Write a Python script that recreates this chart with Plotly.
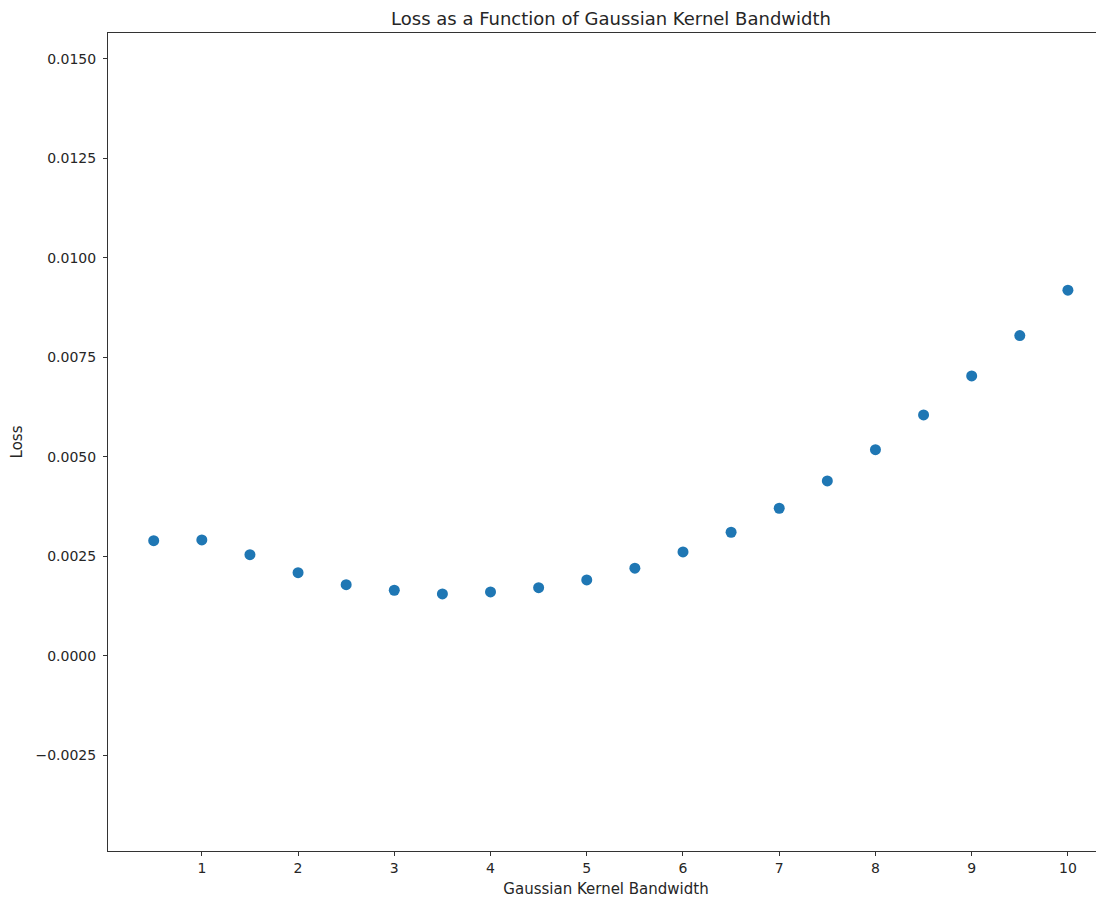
import plotly.graph_objects as go

bandwidth = [0.5, 1.0, 1.5, 2.0, 2.5, 3.0, 3.5, 4.0, 4.5, 5.0,
             5.5, 6.0, 6.5, 7.0, 7.5, 8.0, 8.5, 9.0, 9.5, 10.0]
loss = [0.002897, 0.002915, 0.002545, 0.002093, 0.001791, 0.001651, 0.001558,
        0.001608, 0.001716, 0.001910, 0.002204, 0.002613, 0.003108, 0.003711,
        0.004397, 0.005183, 0.006055, 0.007035, 0.008048, 0.009188]

x_ticks = [1, 2, 3, 4, 5, 6, 7, 8, 9, 10]
y_ticks = [-0.0025, 0.0, 0.0025, 0.0050, 0.0075, 0.0100, 0.0125, 0.0150]
y_ticktext = ["\u22120.0025", "0.0000", "0.0025", "0.0050", "0.0075", "0.0100", "0.0125", "0.0150"]

font = "DejaVu Sans, Arial, sans-serif"

W, H = 1096, 890  # page body has an 8px margin

fig = go.Figure()
fig.add_trace(go.Scatter(
    x=bandwidth, y=loss, mode="markers",
    marker=dict(color="#1f77b4", size=11, line=dict(width=0)),
    showlegend=False,
))

fig.update_layout(
    width=W, height=H,
    margin=dict(l=100, r=0, t=25, b=47),
    paper_bgcolor="white", plot_bgcolor="white",
    font=dict(family=font, size=14, color="#262626"),
    title=dict(text="Loss as a Function of Gaussian Kernel Bandwidth",
               xref="container", x=603 / W, xanchor="center",
               yref="container", y=1 - 11 / H, yanchor="middle",
               font=dict(family=font, size=18, color="#262626")),
)

fig.update_xaxes(
    range=[0.025, 10.375], tickmode="array", tickvals=x_ticks,
    ticks="outside", ticklen=4, tickwidth=1, tickcolor="#333",
    showline=True, linecolor="#333", linewidth=1, mirror=True,
    showgrid=False, zeroline=False,
    title=dict(text="Gaussian Kernel Bandwidth", font=dict(size=15), standoff=8),
)
fig.update_yaxes(
    range=[-0.0049, 0.01565], tickmode="array", tickvals=y_ticks, ticktext=y_ticktext,
    ticks="outside", ticklen=4, tickwidth=1, tickcolor="#333",
    ticklabelstandoff=4,
    showline=True, linecolor="#333", linewidth=1, mirror=False,
    showgrid=False, zeroline=False,
    title=dict(text="Loss", font=dict(size=15), standoff=16),
)

fig.write_html("out.html")
